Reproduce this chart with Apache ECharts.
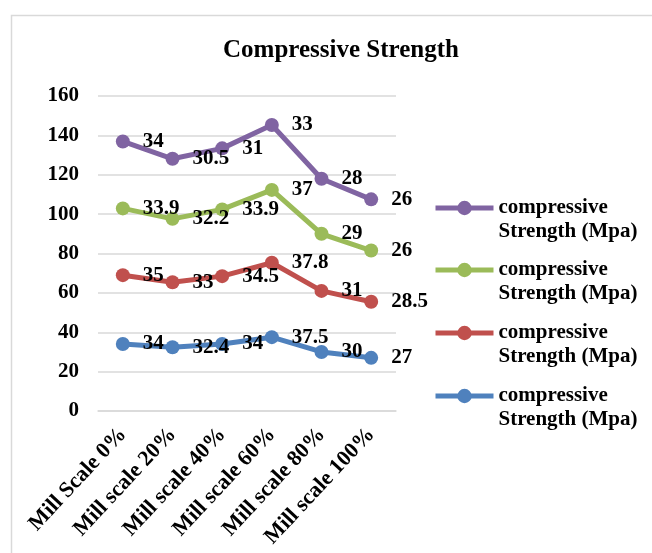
<!DOCTYPE html>
<html>
<head>
<meta charset="utf-8">
<script src="https://cdn.jsdelivr.net/npm/echarts@6/dist/echarts.min.js"></script>
<style>html,body{margin:0;padding:0;background:#fff;}#c{width:652px;height:553px;}</style>
</head>
<body>
<div id="c"></div>
<script>
const categories = ['Mill Scale 0%', 'Mill scale 20%', 'Mill scale 40%', 'Mill scale 60%', 'Mill scale 80%', 'Mill scale 100%'];
const blueValues = [34, 32.4, 34, 37.5, 30, 27];
const redValues = [35, 33, 34.5, 37.8, 31, 28.5];
const greenValues = [33.9, 32.2, 33.9, 37, 29, 26];
const purpleValues = [34, 30.5, 31, 33, 28, 26];
const seriesName = 'compressive\nStrength (Mpa)';
const yTicks = {min: 0, max: 160, interval: 20};

const FONT = '"Liberation Serif", "Times New Roman", serif';
const colors = {s1: '#4F81BD', s2: '#C0504D', s3: '#9BBB59', s4: '#8064A2'};

function mk(id, data) {
  return {
    id: id, name: id, type: 'line', stack: 'total', data: data,
    symbol: 'circle', symbolSize: 14,
    lineStyle: {width: 5, color: colors[id]},
    itemStyle: {color: colors[id]},
    label: {show: true, position: 'right', distance: 13, color: '#000',
      fontFamily: FONT, fontWeight: 'bold', fontSize: 21},
    emphasis: {disabled: true}
  };
}

// one legend per series so each entry can sit where the reference has it
const legendOrder = ['s4', 's3', 's2', 's1'];
const legendIconCenters = [208, 270, 333, 396];
const legends = legendOrder.map(function (id, i) {
  return {
    orient: 'vertical', left: 433, top: legendIconCenters[i] - 36, padding: 0,
    data: [id],
    itemWidth: 58, itemHeight: 18,
    lineStyle: {width: 5},
    formatter: function () { return ' \n' + seriesName; },
    textStyle: {fontFamily: FONT, fontWeight: 'bold', fontSize: 21, color: '#000', lineHeight: 24},
    selectedMode: false
  };
});

const chart = echarts.init(document.getElementById('c'));
chart.setOption({
  animation: false,
  backgroundColor: '#fff',
  graphic: [{type: 'rect', left: 9, top: 13, shape: {width: 700, height: 600},
    style: {fill: 'none', stroke: '#d9d9d9', lineWidth: 1.5}, silent: true}],
  title: {text: 'Compressive Strength', left: 336, top: 33, textAlign: 'center',
    textStyle: {fontFamily: FONT, fontWeight: 'bold', fontSize: 25, color: '#000'}},
  legend: legends,
  grid: {left: 98, right: 256, top: 96, bottom: 142},
  xAxis: {
    type: 'category', data: categories, boundaryGap: true,
    axisLine: {show: true, lineStyle: {color: '#d9d9d9', width: 1.5}},
    axisTick: {show: false},
    axisLabel: {rotate: 47, margin: 20, interval: 0, color: '#000',
      fontFamily: FONT, fontWeight: 'bold', fontSize: 22}
  },
  yAxis: {
    type: 'value', min: yTicks.min, max: yTicks.max, interval: yTicks.interval,
    axisLine: {show: false}, axisTick: {show: false},
    splitLine: {lineStyle: {color: '#d9d9d9', width: 1.5}},
    axisLabel: {margin: 19, color: '#000', fontFamily: FONT, fontWeight: 'bold', fontSize: 21}
  },
  series: [mk('s1', blueValues), mk('s2', redValues), mk('s3', greenValues), mk('s4', purpleValues)]
});
</script>
</body>
</html>
